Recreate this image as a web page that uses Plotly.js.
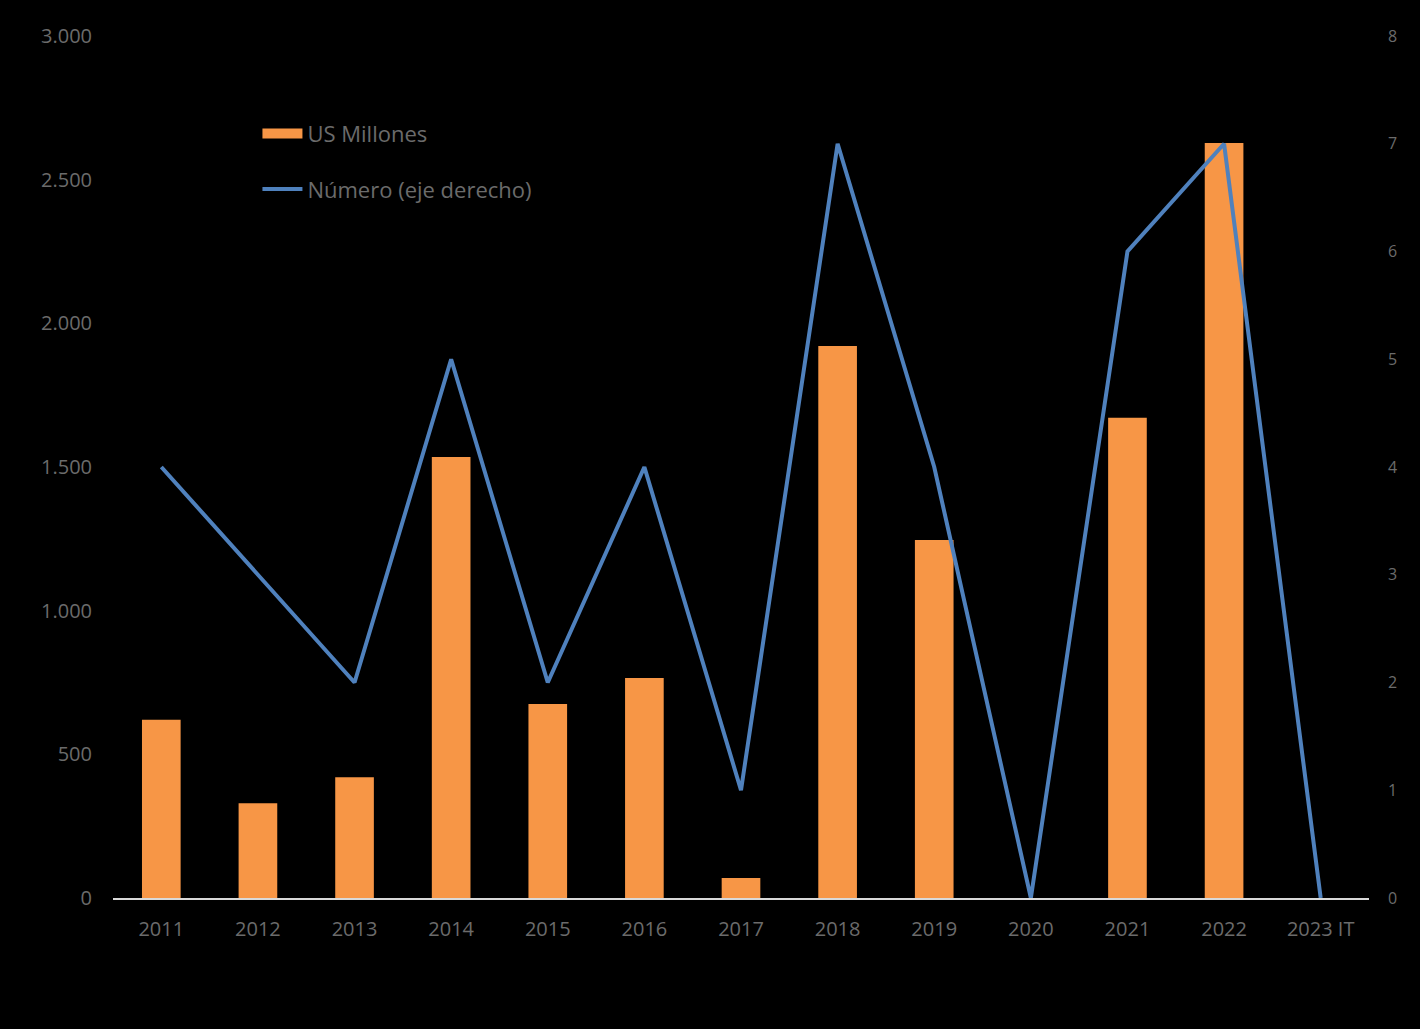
<!DOCTYPE html>
<html>
<head>
<meta charset="utf-8">
<script src="https://cdn.plot.ly/plotly-3.0.1.min.js"></script>
<style>html,body{margin:0;padding:0;background:#000;}#chart{width:1420px;height:1029px;}</style>
</head>
<body>
<div id="chart"></div>
<script>
const categories = ["2011","2012","2013","2014","2015","2016","2017","2018","2019","2020","2021","2022","2023 IT"];
const usMillones = [620, 330, 420, 1535, 675, 766, 70, 1921, 1246, 0, 1671, 2628, 0];
const numero = [4, 3, 2, 5, 2, 4, 1, 7, 4, 0, 6, 7, 0];

const textColor = "#6b6b6b";
const fontFam = "'Open Sans', 'Noto Sans', sans-serif";

const data = [
  {
    type: "bar", name: "US Millones", x: categories, y: usMillones,
    marker: {color: "#F79646"}, width: 0.4, yaxis: "y", showlegend: false
  },
  {
    // legend entry for the bars, drawn as a wide swatch like the original
    type: "scatter", mode: "lines", name: "US Millones", x: [categories[0]], y: [null],
    line: {color: "#F79646", width: 14}, yaxis: "y", legendgroup: "a", showlegend: true
  },
  {
    type: "scatter", mode: "lines", name: "Número (eje derecho)", x: categories, y: numero,
    line: {color: "#4F81BD", width: 4}, yaxis: "y2", legendgroup: "b"
  }
];

const layout = {
  width: 1420, height: 1029,
  paper_bgcolor: "#000", plot_bgcolor: "#000",
  margin: {l: 113, r: 51, t: 36, b: 131},
  separators: ",.",
  font: {family: fontFam, color: textColor, size: 20},
  showlegend: true,
  legend: {x: 0.115, y: 0.911, xanchor: "left", yanchor: "top", bgcolor: "rgba(0,0,0,0)",
           font: {size: 22, color: textColor}, traceorder: "grouped", tracegroupgap: 24, itemwidth: 40},
  xaxis: {
    type: "category", showgrid: false, zeroline: false,
    showline: true, linecolor: "#d9d9d9", linewidth: 2,
    ticks: "", tickfont: {size: 20, color: textColor}, ticklabelstandoff: 12
  },
  yaxis: {
    range: [0, 3000], tickvals: [0, 500, 1000, 1500, 2000, 2500, 3000],
    tickformat: ",d", separatethousands: true,
    showgrid: false, zeroline: false, showline: false, ticks: "",
    tickfont: {size: 20, color: textColor}, ticklabelstandoff: 20
  },
  yaxis2: {
    overlaying: "y", side: "right", range: [0, 8], dtick: 1,
    showgrid: false, zeroline: false, showline: false, ticks: "",
    tickfont: {size: 16, color: textColor}, ticklabelstandoff: 18
  },
  bargap: 0.6
};

Plotly.newPlot("chart", data, layout, {displayModeBar: false, staticPlot: true});
</script>
</body>
</html>
